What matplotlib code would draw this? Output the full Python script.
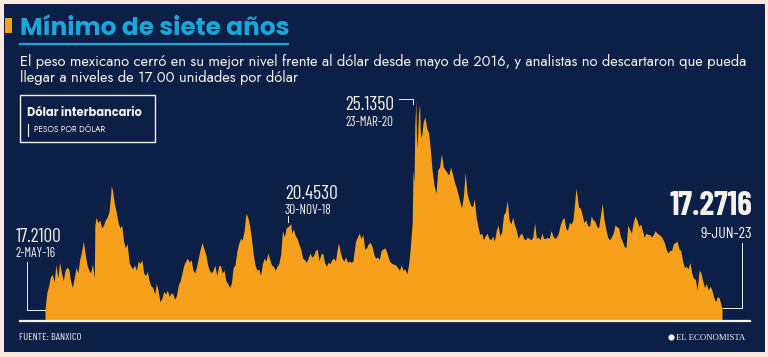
import matplotlib
matplotlib.use("Agg")
import matplotlib.pyplot as plt
import numpy as np
import pandas as pd
from matplotlib.patches import Rectangle
from matplotlib.lines import Line2D
from matplotlib import font_manager

# ---------------- data ----------------
dates = [
 "2016-05-02","2016-05-09","2016-05-16","2016-05-23","2016-05-30","2016-06-06","2016-06-13","2016-06-20","2016-06-27",
 "2016-07-04","2016-07-11","2016-07-18","2016-07-25","2016-08-01","2016-08-08","2016-08-15","2016-08-22","2016-08-29",
 "2016-09-05","2016-09-12","2016-09-19","2016-09-26","2016-10-03","2016-10-10","2016-10-17","2016-10-24","2016-10-31",
 "2016-11-07","2016-11-09","2016-11-14","2016-11-21","2016-11-28","2016-12-05","2016-12-12","2016-12-19","2016-12-26",
 "2017-01-02","2017-01-09","2017-01-11","2017-01-16","2017-01-23","2017-01-30","2017-02-06","2017-02-13","2017-02-20",
 "2017-02-27","2017-03-06","2017-03-13","2017-03-20","2017-03-27","2017-04-03","2017-04-10","2017-04-17","2017-04-24",
 "2017-05-01","2017-05-08","2017-05-15","2017-05-22","2017-05-29","2017-06-05","2017-06-12","2017-06-19","2017-06-26",
 "2017-07-03","2017-07-10","2017-07-17","2017-07-24","2017-07-31","2017-08-07","2017-08-14","2017-08-21","2017-08-28",
 "2017-09-04","2017-09-11","2017-09-18","2017-09-25","2017-10-02","2017-10-09","2017-10-16","2017-10-23","2017-10-30",
 "2017-11-06","2017-11-13","2017-11-20","2017-11-27","2017-12-04","2017-12-11","2017-12-18","2017-12-25",
 "2018-01-01","2018-01-08","2018-01-15","2018-01-22","2018-01-29","2018-02-05","2018-02-12","2018-02-19","2018-02-26",
 "2018-03-05","2018-03-12","2018-03-19","2018-03-26","2018-04-02","2018-04-09","2018-04-16","2018-04-23","2018-04-30",
 "2018-05-07","2018-05-14","2018-05-21","2018-05-28","2018-06-04","2018-06-11","2018-06-18","2018-06-25","2018-07-02",
 "2018-07-09","2018-07-16","2018-07-23","2018-07-30","2018-08-06","2018-08-13","2018-08-20","2018-08-27","2018-09-03",
 "2018-09-10","2018-09-17","2018-09-24","2018-10-01","2018-10-08","2018-10-15","2018-10-22","2018-10-29","2018-11-05",
 "2018-11-12","2018-11-19","2018-11-30","2018-12-03","2018-12-10","2018-12-17","2018-12-24",
 "2019-01-01","2019-01-07","2019-01-14","2019-01-21","2019-01-28","2019-02-04","2019-02-11","2019-02-18","2019-02-25",
 "2019-03-04","2019-03-11","2019-03-18","2019-03-25","2019-04-01","2019-04-08","2019-04-15","2019-04-22","2019-04-29",
 "2019-05-06","2019-05-13","2019-05-20","2019-05-31","2019-06-07","2019-06-14","2019-06-21","2019-06-28","2019-07-05",
 "2019-07-12","2019-07-19","2019-07-26","2019-08-05","2019-08-12","2019-08-19","2019-08-26","2019-09-02","2019-09-09",
 "2019-09-16","2019-09-23","2019-09-30","2019-10-07","2019-10-14","2019-10-21","2019-10-28","2019-11-04","2019-11-11",
 "2019-11-18","2019-11-25","2019-12-02","2019-12-09","2019-12-16","2019-12-23",
 "2020-01-06","2020-01-13","2020-01-20","2020-01-27","2020-02-03","2020-02-10","2020-02-17","2020-02-24","2020-03-02",
 "2020-03-09","2020-03-12","2020-03-16","2020-03-19","2020-03-23","2020-03-26","2020-03-30","2020-04-02","2020-04-06",
 "2020-04-09","2020-04-13","2020-04-20","2020-04-27","2020-05-04","2020-05-11","2020-05-18","2020-05-25","2020-06-01",
 "2020-06-08","2020-06-15","2020-06-22","2020-06-29","2020-07-06","2020-07-13","2020-07-20","2020-07-27","2020-08-03",
 "2020-08-10","2020-08-17","2020-08-24","2020-08-31","2020-09-07","2020-09-14","2020-09-21","2020-09-28","2020-10-05",
 "2020-10-12","2020-10-19","2020-10-26","2020-11-02","2020-11-09","2020-11-16","2020-11-23","2020-11-30","2020-12-07",
 "2020-12-14","2020-12-21","2020-12-28",
 "2021-01-04","2021-01-11","2021-01-18","2021-01-25","2021-02-01","2021-02-08","2021-02-15","2021-02-22","2021-03-01",
 "2021-03-08","2021-03-15","2021-03-22","2021-03-29","2021-04-05","2021-04-12","2021-04-19","2021-04-26","2021-05-03",
 "2021-05-10","2021-05-17","2021-05-24","2021-05-31","2021-06-07","2021-06-14","2021-06-21","2021-06-28","2021-07-05",
 "2021-07-12","2021-07-19","2021-07-26","2021-08-02","2021-08-09","2021-08-16","2021-08-23","2021-08-30","2021-09-06",
 "2021-09-13","2021-09-20","2021-09-27","2021-10-04","2021-10-11","2021-10-18","2021-10-25","2021-11-01","2021-11-08",
 "2021-11-15","2021-11-22","2021-11-26","2021-12-01","2021-12-06","2021-12-13","2021-12-20","2021-12-27",
 "2022-01-03","2022-01-10","2022-01-17","2022-01-24","2022-01-31","2022-02-07","2022-02-14","2022-02-21","2022-02-28",
 "2022-03-07","2022-03-14","2022-03-21","2022-03-28","2022-04-04","2022-04-11","2022-04-18","2022-04-25","2022-05-02",
 "2022-05-09","2022-05-16","2022-05-23","2022-05-30","2022-06-06","2022-06-13","2022-06-20","2022-06-27","2022-07-04",
 "2022-07-11","2022-07-18","2022-07-25","2022-08-01","2022-08-08","2022-08-15","2022-08-22","2022-08-29","2022-09-05",
 "2022-09-12","2022-09-19","2022-09-26","2022-10-03","2022-10-10","2022-10-17","2022-10-24","2022-10-31","2022-11-07",
 "2022-11-14","2022-11-21","2022-11-28","2022-12-05","2022-12-12","2022-12-19","2022-12-26",
 "2023-01-02","2023-01-09","2023-01-16","2023-01-23","2023-01-30","2023-02-06","2023-02-13","2023-02-20","2023-02-27",
 "2023-03-06","2023-03-13","2023-03-20","2023-03-27","2023-04-03","2023-04-10","2023-04-17","2023-04-24","2023-05-01",
 "2023-05-08","2023-05-15","2023-05-22","2023-05-29","2023-06-01","2023-06-05","2023-06-09",
]
pesos_por_dolar = [
 17.21,17.85,18.10,18.45,18.55,18.25,18.90,18.40,19.00,
 18.60,18.30,18.70,18.80,18.75,18.30,18.05,18.40,18.80,
 18.60,19.10,19.40,19.80,19.30,18.90,18.70,18.60,18.95,
 18.40,20.40,20.70,20.50,20.60,20.30,20.40,20.60,20.70,
 20.90,21.60,21.90,21.70,21.20,20.90,20.50,20.30,20.40,
 19.80,19.55,19.70,19.00,18.85,18.75,18.90,18.70,19.05,
 18.95,19.10,18.60,18.50,18.65,18.30,18.10,18.05,17.80,
 18.20,17.90,17.50,17.65,17.90,17.80,17.95,17.70,17.85,
 17.80,17.60,17.75,18.15,18.30,18.60,18.90,19.05,19.15,
 19.00,19.10,18.70,18.60,18.85,19.20,19.50,19.75,
 19.50,19.30,18.90,18.70,18.60,18.70,18.90,18.50,18.85,
 18.90,18.60,18.70,18.30,18.20,18.05,18.20,18.80,18.90,
 19.40,19.70,19.90,19.85,20.20,20.85,20.70,20.40,19.90,
 19.30,18.90,18.70,18.75,18.50,18.95,19.15,19.05,19.35,
 19.10,18.90,18.85,18.70,18.85,18.95,19.30,20.20,19.95,
 20.30,20.35,20.453,20.10,20.25,20.00,19.90,
 19.65,19.50,19.15,19.10,19.00,19.15,19.35,19.20,19.25,
 19.45,19.50,19.05,19.30,19.35,19.00,18.85,19.00,18.95,
 19.10,19.15,19.05,19.75,19.40,19.15,19.05,19.20,19.00,
 19.05,19.00,19.05,19.80,19.95,20.10,19.90,20.05,19.50,
 19.55,19.70,19.75,19.60,19.30,19.15,19.20,19.10,19.45,
 19.50,19.55,19.40,19.15,19.00,18.95,
 18.90,18.80,18.70,18.90,18.70,18.75,18.55,18.90,19.60,
 20.50,22.50,22.00,24.20,25.135,23.30,23.80,24.60,25.00,
 23.90,23.70,24.30,24.50,24.05,23.90,23.20,22.40,21.90,
 21.60,22.50,22.60,23.10,22.60,22.50,22.40,22.30,22.60,
 22.35,22.05,21.85,21.60,21.30,21.05,21.50,22.40,21.60,
 21.35,21.15,21.10,21.40,20.70,20.35,20.05,20.10,19.85,
 20.00,20.10,19.90,
 19.85,20.00,19.80,20.20,20.40,20.00,20.15,20.80,20.90,
 21.35,20.60,20.45,20.70,20.40,20.20,19.90,20.05,20.10,
 19.90,19.85,19.95,19.90,19.85,19.95,20.50,19.90,19.95,
 19.85,20.10,19.90,19.90,19.95,19.90,20.20,20.00,19.90,
 19.95,20.10,20.40,20.60,20.70,20.30,20.20,20.50,20.45,
 20.60,21.30,21.80,21.50,21.10,21.05,20.80,20.50,
 20.60,20.40,20.35,20.75,20.60,20.55,20.35,20.30,20.75,
 21.25,20.60,20.25,19.95,19.85,19.95,20.10,20.40,20.35,
 20.30,19.95,19.80,19.60,19.55,20.40,20.25,20.10,20.50,
 20.75,20.60,20.35,20.45,20.20,19.95,20.10,20.05,20.05,
 19.95,20.05,20.20,20.10,20.05,20.00,19.90,19.75,19.50,
 19.35,19.45,19.45,19.70,19.75,19.80,19.50,
 19.45,19.05,18.80,18.85,18.75,19.00,18.60,18.40,18.35,
 17.95,18.70,18.60,18.30,18.05,18.20,17.95,18.10,17.95,
 17.70,17.50,17.70,17.65,17.55,17.40,17.2716,
]
annot_labels = ["17.2100", "20.4530", "25.1350", "17.2716"]
annot_dates = ["2-MAY-16", "30-NOV-18", "23-MAR-20", "9-JUN-23"]

# ---------------- style ----------------
W, H = 768, 357
NAVY = "#0c1f46"
ORANGE = "#f7a01b"
CYAN = "#1aa6d9"
PEACH = "#fbe9dc"
WHITE = "#f4f1ea"

_fonts = font_manager.fontManager.ttflist
_names = {f.name for f in _fonts}


def pick(*cands):
    for c in cands:
        if c in _names:
            return c
    return "DejaVu Sans"


def pick_bold(*cands):
    for c in cands:
        if any(f.name == c and (f.weight in ("bold", 700) or str(f.weight) == "700") for f in _fonts):
            return c
    return "DejaVu Sans"


COND_FAMILY = pick("Barlow Condensed", "Asap Condensed", "Archivo Narrow")
GEO_FAMILY = pick("Jost", "Lato")
GEO_BOLD = pick_bold("Poppins", "Montserrat", "Lato")
SERIF_FAMILY = pick("Liberation Serif", "DejaVu Serif")


def fx(x):
    return x / W


def fy(y):
    return 1 - y / H


x = pd.to_datetime(dates)
y = np.array(pesos_por_dolar)

fig = plt.figure(figsize=(W / 100, H / 100), dpi=100)
fig.patch.set_facecolor(PEACH)
fig.patches.append(Rectangle((fx(4), fy(352)), fx(761), 348 / H,
                             transform=fig.transFigure, facecolor=NAVY,
                             edgecolor="none", zorder=-5))

# axes: data from x=45 to x=722, baseline y=321
ax = fig.add_axes([fx(45), fy(321), fx(677), (321 - 90) / H])
ax.set_zorder(1)
ax.patch.set_visible(False)
ymin = 16.78
ax.set_ylim(ymin, ymin + (321 - 90) / 26.45)
ax.set_xlim(x[0], x[-1])
ax.fill_between(x, y, ymin, color=ORANGE, linewidth=0, zorder=2)
ax.axis("off")

# baseline
fig.add_artist(Line2D([fx(20), fx(750)], [fy(321), fy(321)], color=WHITE, lw=1.6, zorder=3))

# title
fig.patches.append(Rectangle((fx(5), fy(33)), fx(7), 15 / H, transform=fig.transFigure,
                             facecolor=ORANGE, edgecolor="none"))
fig.text(fx(20), fy(35), "Mínimo de siete años", family=GEO_BOLD, fontweight="bold",
         fontsize=17.8, color=CYAN, va="baseline", ha="left")
fig.add_artist(Line2D([fx(20), fx(288)], [fy(44), fy(44)], color=CYAN, lw=1.6))
fig.text(fx(20), fy(66),
         "El peso mexicano cerró en su mejor nivel frente al dólar desde mayo de 2016, y analistas no descartaron que pueda",
         family=GEO_FAMILY, fontsize=10.65, color=WHITE, va="baseline", ha="left")
fig.text(fx(20), fy(82), "llegar a niveles de 17.00 unidades por dólar",
         family=GEO_FAMILY, fontsize=10.65, color=WHITE, va="baseline", ha="left")

# legend box
fig.patches.append(Rectangle((fx(20), fy(142)), fx(135), 47 / H, transform=fig.transFigure,
                             facecolor="none", edgecolor=WHITE, lw=1.0))
fig.text(fx(27), fy(116), "Dólar interbancario", family=GEO_BOLD, fontweight="bold",
         fontsize=8.2, color=WHITE, va="baseline")
fig.add_artist(Line2D([fx(28), fx(28)], [fy(124), fy(136)], color=WHITE, lw=0.8))
fig.text(fx(34), fy(132), "PESOS POR DÓLAR", family=GEO_FAMILY, fontsize=6.0,
         color=WHITE, va="baseline")

# annotations
tc = dict(color=WHITE, va="baseline", family=COND_FAMILY)
# start
fig.text(fx(16), fy(242), annot_labels[0], fontsize=14, fontweight="normal", ha="left", **tc)
fig.text(fx(16), fy(257), annot_dates[0], fontsize=9.5, ha="left", **tc)
fig.add_artist(Line2D([fx(27), fx(27), fx(45)], [fy(262), fy(310), fy(310)], color=WHITE, lw=0.7))
# 2018
fig.text(fx(285), fy(199), annot_labels[1], fontsize=14, fontweight="normal", ha="left", **tc)
fig.text(fx(285), fy(214), annot_dates[1], fontsize=9.5, ha="left", **tc)
fig.add_artist(Line2D([fx(288), fx(288)], [fy(216), fy(222)], color=WHITE, lw=0.7))
# peak
fig.text(fx(394), fy(110), annot_labels[2], fontsize=14, fontweight="normal", ha="right", **tc)
fig.text(fx(394), fy(126), annot_dates[2], fontsize=9.5, ha="right", **tc)
fig.add_artist(Line2D([fx(399), fx(413), fx(413)], [fy(99), fy(99), fy(104)], color=WHITE, lw=0.7))
# end
fig.text(fx(752), fy(215), annot_labels[3], fontsize=24, fontweight="bold", ha="right", **tc)
fig.text(fx(752), fy(238), annot_dates[3], fontsize=11.5, ha="right", **tc)
fig.add_artist(Line2D([fx(742), fx(742), fx(723)], [fy(243), fy(308), fy(308)], color=WHITE, lw=0.7))

# footer
fig.text(fx(19), fy(340), "FUENTE: BANXICO", fontsize=7.5, color=WHITE, va="baseline", ha="left",
         family=COND_FAMILY)
fig.text(fx(745), fy(340), "EL ECONOMISTA", family=SERIF_FAMILY, fontsize=6.3,
         color=WHITE, va="baseline", ha="right")
fig.add_artist(Line2D([fx(671)], [fy(336.5)], marker="o", markersize=4.5, color=WHITE,
                      markeredgewidth=0))

fig.savefig("out.png", dpi=100, facecolor=PEACH)
